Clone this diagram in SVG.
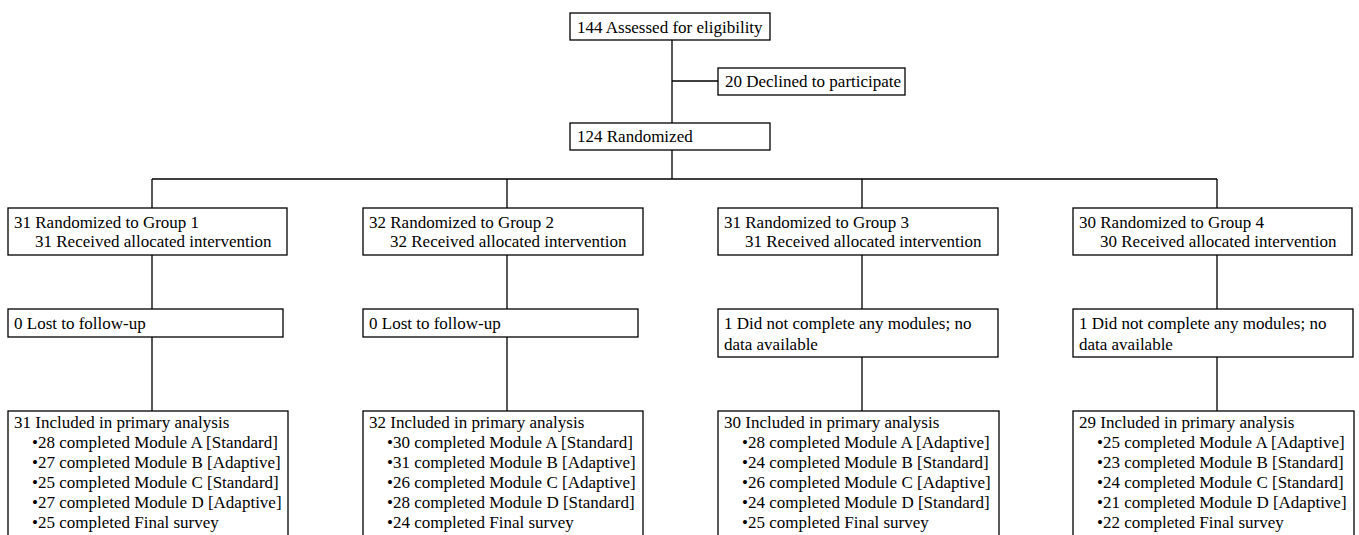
<svg xmlns="http://www.w3.org/2000/svg" width="1359" height="535" viewBox="0 0 1359 535">
<style>
.box{fill:#fff;stroke:#000;stroke-width:1.3}
.ln{fill:none;stroke:#000;stroke-width:1.3}
text{font-family:"Liberation Serif","Times New Roman",serif;font-size:17px;fill:#000}
</style>
<rect width="1359" height="535" fill="#fff"/>
<g id="connectors">
<path class="ln" d="M672,40V123M672,81H718M672,150V179M152,179H1217"/>
<path class="ln" d="M152,179V208M507,179V208M862,179V208M1217,179V208"/>
<path class="ln" d="M152,255V309M507,255V309M862,255V309M1217,255V309"/>
<path class="ln" d="M152,337V411M507,337V411M862,357V411M1217,357V411"/>
</g>
<g id="assessed"><rect class="box" x="570" y="13" width="200" height="27"/><text x="577" y="33">144 Assessed for eligibility</text></g>
<g id="declined"><rect class="box" x="718" y="68" width="187" height="27"/><text x="725" y="87">20 Declined to participate</text></g>
<g id="randomized"><rect class="box" x="570" y="123" width="200" height="27"/><text x="577" y="142">124 Randomized</text></g>

<g id="group1"><rect class="box" x="8" y="208" width="279" height="47"/><text x="14" y="228">31 Randomized to Group 1</text><text x="35" y="247">31 Received allocated intervention</text></g>
<g id="group2"><rect class="box" x="363" y="208" width="280" height="47"/><text x="369" y="228">32 Randomized to Group 2</text><text x="390" y="247">32 Received allocated intervention</text></g>
<g id="group3"><rect class="box" x="718" y="208" width="280" height="47"/><text x="724" y="228">31 Randomized to Group 3</text><text x="745" y="247">31 Received allocated intervention</text></g>
<g id="group4"><rect class="box" x="1073" y="208" width="279" height="47"/><text x="1079" y="228">30 Randomized to Group 4</text><text x="1100" y="247">30 Received allocated intervention</text></g>

<g id="lost1"><rect class="box" x="8" y="309" width="275" height="28"/><text x="14" y="329">0 Lost to follow-up</text></g>
<g id="lost2"><rect class="box" x="363" y="309" width="275" height="28"/><text x="369" y="329">0 Lost to follow-up</text></g>
<g id="lost3"><rect class="box" x="718" y="309" width="280" height="48"/><text x="724" y="329">1 Did not complete any modules; no</text><text x="724" y="350">data available</text></g>
<g id="lost4"><rect class="box" x="1073" y="309" width="280" height="48"/><text x="1079" y="329">1 Did not complete any modules; no</text><text x="1079" y="350">data available</text></g>

<g id="analysis1"><rect class="box" x="8" y="411" width="280" height="130"/>
<text x="14" y="428">31 Included in primary analysis</text>
<text x="32" y="448">•28 completed Module A [Standard]</text>
<text x="32" y="468">•27 completed Module B [Adaptive]</text>
<text x="32" y="488">•25 completed Module C [Standard]</text>
<text x="32" y="508">•27 completed Module D [Adaptive]</text>
<text x="32" y="528">•25 completed Final survey</text></g>
<g id="analysis2"><rect class="box" x="363" y="411" width="280" height="130"/>
<text x="369" y="428">32 Included in primary analysis</text>
<text x="387" y="448">•30 completed Module A [Standard]</text>
<text x="387" y="468">•31 completed Module B [Adaptive]</text>
<text x="387" y="488">•26 completed Module C [Adaptive]</text>
<text x="387" y="508">•28 completed Module D [Standard]</text>
<text x="387" y="528">•24 completed Final survey</text></g>
<g id="analysis3"><rect class="box" x="718" y="411" width="281" height="130"/>
<text x="724" y="428">30 Included in primary analysis</text>
<text x="742" y="448">•28 completed Module A [Adaptive]</text>
<text x="742" y="468">•24 completed Module B [Standard]</text>
<text x="742" y="488">•26 completed Module C [Adaptive]</text>
<text x="742" y="508">•24 completed Module D [Standard]</text>
<text x="742" y="528">•25 completed Final survey</text></g>
<g id="analysis4"><rect class="box" x="1073" y="411" width="281" height="130"/>
<text x="1079" y="428">29 Included in primary analysis</text>
<text x="1097" y="448">•25 completed Module A [Adaptive]</text>
<text x="1097" y="468">•23 completed Module B [Standard]</text>
<text x="1097" y="488">•24 completed Module C [Standard]</text>
<text x="1097" y="508">•21 completed Module D [Adaptive]</text>
<text x="1097" y="528">•22 completed Final survey</text></g>
</svg>
